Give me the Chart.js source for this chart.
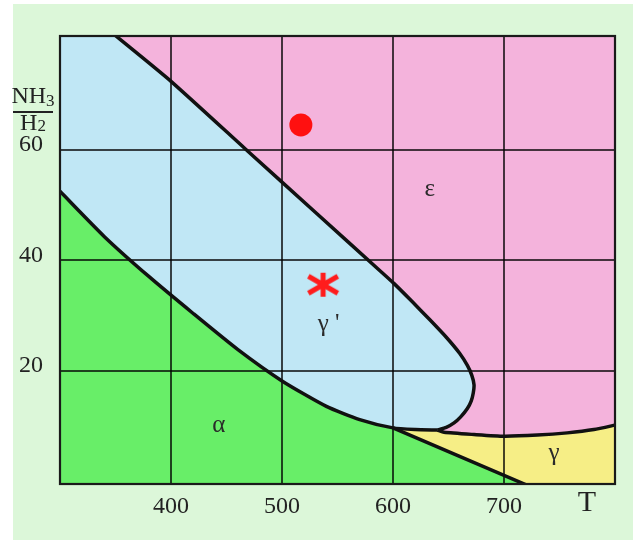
<!DOCTYPE html>
<html lang="en">
<head>
<meta charset="UTF-8">
<title>Lehrer diagram</title>
<script src="https://cdn.jsdelivr.net/npm/chart.js"></script>
<style>
  html, body { margin: 0; padding: 0; background: #fff; }
  canvas {
    display: block;
    background: linear-gradient(#fff, #fff) top left / 100% 4px no-repeat,
                linear-gradient(to right, #fff 13px, #dcf7d9 13px);
  }
</style>
</head>
<body>
<canvas id="lehrer" width="633" height="540"></canvas>
<script>
// axis ticks
const tempTicks = [400, 500, 600, 700];
const ratioTicks = [20, 40, 60];

// phase boundaries as [T, NH3/H2] pairs
// epsilon / gamma' line, from the top edge round the nose to the tip
const epsGammaPrime = [[348, 81], [400, 72.4], [469, 59.8], [530, 48.7], [589, 38.0], [601, 35.8],
  [617, 32.6], [633, 29.3], [648, 26.1], [660, 23.2], [667, 21.0], [671, 19.2], [673, 17.5],
  [672.3, 16.0], [670.5, 14.6], [667, 13.2], [661, 11.7], [655, 10.6], [648, 9.8], [640, 9.3]];
// alpha / gamma' line (then gamma / gamma' past 600)
const alphaGammaPrime = [[300, 52.5], [340, 44.3], [380, 37.1], [420, 30.4], [460, 23.9], [500, 18.2],
  [540, 13.6], [570, 11.2], [600, 9.7], [620, 9.4], [640, 9.3]];
// alpha / gamma line
const alphaGamma = [[600, 9.7], [720, -0.6]];
// gamma / epsilon line
const gammaEps = [[640, 9.3], [646, 8.9], [673, 8.5], [700, 8.2], [730, 8.4], [757, 8.8], [781, 9.4], [802, 10.3]];

// the two red markers
const dotPoint = [[517, 64.5]];
const starPoint = [[537, 35.6]];

// phase names and where they sit
const phaseNames = ['ε', 'γ \'', 'α', 'γ'];
const phaseT = [633, 542, 443, 745];
const phaseR = [52.9, 28.5, 10.1, 5.1];

const toXY = pts => pts.map(p => ({ x: p[0], y: p[1] }));

// filled phase areas built from the boundaries (corners pushed outside the plot so they clip)
const lo = -3, hi = 84, left = 290, right = 810;
const epsArea = [[left, lo], [right, lo], [right, hi], [left, hi]];
const gammaArea = [...alphaGammaPrime.filter(p => p[0] >= 600), ...gammaEps.slice(1),
  [right, 10.3], [right, lo], [600, lo]];
const gammaPrimeArea = [[left, hi], ...epsGammaPrime, ...alphaGammaPrime.slice(0, -1).reverse(), [left, 52.5]];
const alphaArea = [...alphaGammaPrime.filter(p => p[0] <= 600), ...alphaGamma.slice(1),
  [720, lo], [left, lo], [left, 52.5]];

function areaSet(pts, color, order) {
  return {
    data: toXY(pts), showLine: true, fill: 'shape', backgroundColor: color,
    borderWidth: 0, borderColor: 'transparent', pointRadius: 0, tension: 0, order: order
  };
}
function lineSet(pts) {
  return {
    data: toXY(pts), showLine: true, fill: false, borderColor: '#111',
    borderWidth: 3.5, pointRadius: 0, tension: 0.2, order: 1
  };
}

// six-armed asterisk marker
function makeAsterisk() {
  const c = document.createElement('canvas');
  c.width = 40; c.height = 40;
  const g = c.getContext('2d');
  g.translate(20, 20);
  g.strokeStyle = '#ff1c1c';
  g.lineWidth = 5;
  const a = Math.PI / 6, r = 17;
  g.beginPath();
  g.moveTo(0, -12); g.lineTo(0, 12);
  g.moveTo(-r * Math.cos(a), -r * Math.sin(a)); g.lineTo(r * Math.cos(a), r * Math.sin(a));
  g.moveTo(-r * Math.cos(a), r * Math.sin(a)); g.lineTo(r * Math.cos(a), -r * Math.sin(a));
  g.stroke();
  return c;
}

const serif = "'Liberation Serif', 'DejaVu Serif', serif";

const decorations = {
  id: 'decorations',
  afterDatasetsDraw(chart) {
    const { ctx, chartArea: a, scales: { x, y } } = chart;
    ctx.save();
    // frame
    ctx.strokeStyle = '#1a1a1a';
    ctx.lineWidth = 2.2;
    ctx.strokeRect(a.left, a.top, a.right - a.left, a.bottom - a.top);

    // phase names
    ctx.fillStyle = '#2a2a2a';
    ctx.font = '25px ' + serif;
    ctx.textAlign = 'center';
    ctx.textBaseline = 'middle';
    phaseNames.forEach((n, i) => {
      ctx.fillText(n, x.getPixelForValue(phaseT[i]), y.getPixelForValue(phaseR[i]));
    });

    // axis titles
    ctx.fillStyle = '#222';
    ctx.font = '30px ' + serif;
    ctx.fillText('T', a.right - 28, a.bottom + 19);

    const cx = a.left - 27;
    ctx.textBaseline = 'alphabetic';
    ctx.textAlign = 'left';
    ctx.font = '24px ' + serif;
    let w = ctx.measureText('NH').width;
    ctx.font = '17px ' + serif;
    let ws = ctx.measureText('3').width;
    let x0 = cx - (w + ws) / 2;
    ctx.font = '24px ' + serif;
    ctx.fillText('NH', x0, a.top + 67);
    ctx.font = '17px ' + serif;
    ctx.fillText('3', x0 + w, a.top + 70);

    ctx.font = '24px ' + serif;
    w = ctx.measureText('H').width;
    ctx.font = '17px ' + serif;
    ws = ctx.measureText('2').width;
    x0 = cx - (w + ws) / 2;
    ctx.font = '24px ' + serif;
    ctx.fillText('H', x0, a.top + 94);
    ctx.font = '17px ' + serif;
    ctx.fillText('2', x0 + w, a.top + 95);

    ctx.strokeStyle = '#222';
    ctx.lineWidth = 2;
    ctx.beginPath();
    ctx.moveTo(cx - 20, a.top + 76);
    ctx.lineTo(cx + 20, a.top + 76);
    ctx.stroke();
    ctx.restore();
  }
};

const gridStyle = { color: 'rgba(0,0,0,0.72)', lineWidth: 2, drawTicks: false };
const tickFont = { family: serif, size: 24 };

new Chart(document.getElementById('lehrer'), {
  type: 'scatter',
  data: {
    datasets: [
      areaSet(epsArea, '#f4b3dc', 5),
      areaSet(gammaArea, '#f6ee86', 4),
      areaSet(gammaPrimeArea, '#c0e7f5', 3),
      areaSet(alphaArea, '#68ee68', 2),
      lineSet(epsGammaPrime),
      lineSet(alphaGammaPrime),
      lineSet(alphaGamma),
      lineSet(gammaEps),
      { data: toXY(dotPoint), pointRadius: 11.5, pointBackgroundColor: '#ff1010', pointBorderWidth: 0, order: 0 },
      { data: toXY(starPoint), pointRadius: 10, pointStyle: makeAsterisk(), order: 0 }
    ]
  },
  options: {
    responsive: false,
    animation: false,
    layout: { padding: { top: 36, right: 18, left: 0, bottom: 0 } },
    plugins: {
      legend: { display: false },
      tooltip: { enabled: false },
      filler: { drawTime: 'beforeDraw' }
    },
    scales: {
      x: {
        type: 'linear', min: 300, max: 800,
        afterBuildTicks: s => { s.ticks = tempTicks.map(v => ({ value: v })); },
        afterFit: s => { s.height = 56; },
        ticks: { font: tickFont, color: '#222', padding: 8 },
        grid: gridStyle,
        border: { display: false }
      },
      y: {
        type: 'linear', min: -0.45, max: 80.6,
        afterBuildTicks: s => { s.ticks = ratioTicks.map(v => ({ value: v })); },
        afterFit: s => { s.width = 60; },
        ticks: { font: tickFont, color: '#222', padding: 17, labelOffset: -5 },
        grid: gridStyle,
        border: { display: false }
      }
    }
  },
  plugins: [decorations]
});
</script>
</body>
</html>
